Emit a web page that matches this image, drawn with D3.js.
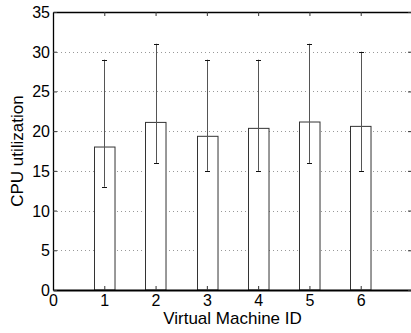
<!DOCTYPE html>
<html>
<head>
<meta charset="utf-8">
<script src="https://cdn.jsdelivr.net/npm/d3@7"></script>
<style>
  body { margin: 0; background: #fff; }
  text { font-family: "Liberation Sans", Arial, sans-serif; fill: #000; }
</style>
</head>
<body>
<div id="wrapper"></div>
<script>
// data
const vmIds = [1, 2, 3, 4, 5, 6];
const meanCpu = [18.0, 21.1, 19.35, 20.35, 21.15, 20.6];
const lowCpu = [13, 16, 15, 15, 16, 15];
const highCpu = [29, 31, 29, 29, 31, 30];
const xTicks = [0, 1, 2, 3, 4, 5, 6];
const yTicks = [0, 5, 10, 15, 20, 25, 30, 35];

const dimensions = {
  width: 411,
  height: 333,
  margin: { top: 12, right: -1, bottom: 43, left: 53 }
};
dimensions.boundedWidth = dimensions.width - dimensions.margin.left - dimensions.margin.right;
dimensions.boundedHeight = dimensions.height - dimensions.margin.top - dimensions.margin.bottom;

const svg = d3.select('#wrapper').append('svg')
  .attr('width', dimensions.width)
  .attr('height', dimensions.height);

const bounds = svg.append('g')
  .attr('transform', `translate(${dimensions.margin.left},${dimensions.margin.top})`);

const xScale = d3.scaleLinear().domain([0, 7]).range([0, dimensions.boundedWidth]);
const yScale = d3.scaleLinear().domain([0, 35]).range([dimensions.boundedHeight, 0]);

// grid
bounds.append('g').selectAll('line')
  .data(yTicks.filter(d => d > 0 && d < 35))
  .join('line')
  .attr('x1', 0).attr('x2', dimensions.boundedWidth)
  .attr('y1', d => Math.round(yScale(d)) + 0.5).attr('y2', d => Math.round(yScale(d)) + 0.5)
  .attr('stroke', '#999').attr('stroke-dasharray', '1,3');

// bars
const barW = xScale(0.4) - xScale(0);
bounds.append('g').selectAll('rect')
  .data(vmIds)
  .join('rect')
  .attr('x', (d, i) => Math.round(xScale(d) - barW / 2) + 0.5)
  .attr('y', (d, i) => yScale(meanCpu[i]))
  .attr('width', barW)
  .attr('height', (d, i) => yScale(0) - yScale(meanCpu[i]))
  .attr('fill', '#fff')
  .attr('stroke', '#333');

// error bars
const err = bounds.append('g').attr('stroke', '#555');
err.selectAll('line.v').data(vmIds).join('line').attr('class', 'v')
  .attr('x1', d => Math.round(xScale(d)) + 0.5).attr('x2', d => Math.round(xScale(d)) + 0.5)
  .attr('y1', (d, i) => yScale(lowCpu[i])).attr('y2', (d, i) => yScale(highCpu[i]));
[lowCpu, highCpu].forEach(arr => {
  err.append('g').selectAll('line').data(vmIds).join('line')
    .attr('stroke', '#111')
    .attr('x1', d => Math.round(xScale(d)) - 2).attr('x2', d => Math.round(xScale(d)) + 3)
    .attr('y1', (d, i) => Math.round(yScale(arr[i])) + 0.5)
    .attr('y2', (d, i) => Math.round(yScale(arr[i])) + 0.5);
});

// axes
const fmt = d3.format('d');
const xAxis = bounds.append('g')
  .attr('transform', `translate(0,${dimensions.boundedHeight})`)
  .call(d3.axisBottom(xScale).tickValues(xTicks).tickFormat(fmt).tickSizeInner(-4).tickSizeOuter(0).tickPadding(5));
const xTop = bounds.append('g')
  .call(d3.axisTop(xScale).tickValues(xTicks).tickSizeInner(-4).tickSizeOuter(0).tickFormat(''));
const yAxis = bounds.append('g')
  .call(d3.axisLeft(yScale).tickValues(yTicks).tickFormat(fmt).tickSizeInner(-4).tickSizeOuter(0).tickPadding(3));
const yRight = bounds.append('g')
  .attr('transform', `translate(${dimensions.boundedWidth},0)`)
  .call(d3.axisRight(yScale).tickValues(yTicks).tickSizeInner(-4).tickSizeOuter(0).tickFormat(''));

[xAxis, xTop, yAxis, yRight].forEach(a => {
  a.selectAll('.domain').attr('stroke', '#000').attr('stroke-width', 1.3);
  a.selectAll('.tick line').attr('stroke', '#333');
  a.selectAll('.tick text').style('font-size', '16px').style('font-family', '"Liberation Sans", Arial, sans-serif');
});
xAxis.select('.domain').attr('stroke-width', 2);
yAxis.selectAll('.tick text').attr('dy', '0.34em');

// labels
svg.append('text')
  .attr('x', 53 + xScale(3.5))
  .attr('y', 324)
  .attr('text-anchor', 'middle')
  .style('font-size', '17px')
  .text('Virtual Machine ID');

svg.append('text')
  .attr('transform', `translate(23,${dimensions.margin.top + dimensions.boundedHeight / 2}) rotate(-90)`)
  .attr('text-anchor', 'middle')
  .style('font-size', '17px')
  .text('CPU utilization');
</script>
</body>
</html>
